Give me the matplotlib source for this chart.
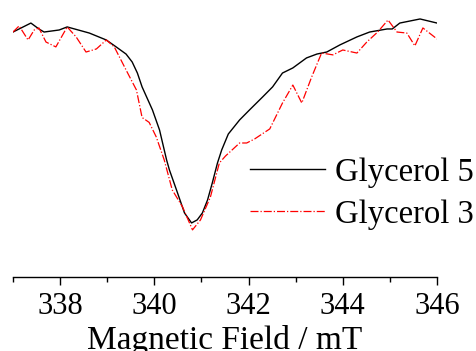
import matplotlib

matplotlib.use("Agg")
import matplotlib.pyplot as plt  # noqa: E402
from matplotlib.ticker import MultipleLocator  # noqa: E402

plt.rcParams["font.family"] = ["Liberation Serif", "DejaVu Serif"]

# normalised EPR absorption
field_5 = [337.00, 337.38, 337.55, 337.66, 337.98, 338.15, 338.62, 338.98, 339.19,
           339.40, 339.53, 339.64, 339.74, 339.96, 340.11, 340.26, 340.32, 340.47,
           340.64, 340.79, 340.91, 341.02, 341.13, 341.23, 341.34, 341.43, 341.57,
           341.81, 342.02, 342.30, 342.51, 342.72, 342.94, 343.23, 343.45, 343.66,
           343.94, 344.30, 344.57, 344.94, 345.05, 345.21, 345.64, 346.00]
glycerol_5 = [0.936, 0.980, 0.951, 0.936, 0.946, 0.961, 0.931, 0.897, 0.863,
              0.828, 0.789, 0.735, 0.667, 0.554, 0.456, 0.309, 0.260, 0.162,
              0.049, 0.000, 0.015, 0.049, 0.113, 0.196, 0.294, 0.358, 0.436,
              0.505, 0.554, 0.618, 0.667, 0.735, 0.760, 0.809, 0.828, 0.838,
              0.873, 0.912, 0.936, 0.951, 0.951, 0.980, 1.000, 0.980]

field_3 = [337.00, 337.13, 337.32, 337.45, 337.55, 337.70, 337.91, 338.15, 338.34,
           338.55, 338.77, 338.98, 339.15, 339.40, 339.62, 339.74, 339.89, 340.04,
           340.21, 340.38, 340.60, 340.81, 340.98, 341.19, 341.38, 341.51, 341.81,
           341.96, 342.13, 342.45, 342.72, 342.94, 343.13, 343.34, 343.55, 343.79,
           344.00, 344.30, 344.51, 344.74, 344.96, 345.15, 345.36, 345.53, 345.70,
           346.00]
glycerol_3 = [0.936, 0.966, 0.897, 0.946, 0.956, 0.887, 0.863, 0.961, 0.912,
              0.838, 0.853, 0.897, 0.863, 0.750, 0.652, 0.517, 0.493, 0.422,
              0.309, 0.162, 0.078, -0.034, 0.015, 0.127, 0.294, 0.328, 0.392,
              0.392, 0.412, 0.461, 0.588, 0.676, 0.588, 0.716, 0.833, 0.824,
              0.848, 0.833, 0.887, 0.936, 0.995, 0.936, 0.931, 0.868, 0.956,
              0.902]

fig = plt.figure(figsize=(4.76, 3.51), dpi=100)
ax = fig.add_axes([0.0273, 0.2108, 0.8908, 0.7892])

ax.plot(field_5, glycerol_5, color="black", lw=1.0, label="Glycerol 5")
ax.plot(field_3, glycerol_3, color="red", lw=0.9, ls="-.", label="Glycerol 3")

ax.set_xlim(337, 346)
ax.set_ylim(-0.265, 1.093)
ax.set_xticks([338, 340, 342, 344, 346])
ax.xaxis.set_minor_locator(MultipleLocator(1))
ax.tick_params(axis="x", which="major", direction="out", length=6, width=1,
               labelsize=22, pad=5)
ax.tick_params(axis="x", which="minor", direction="out", length=3.5, width=1)
ax.set_yticks([])
for side in ("top", "left", "right"):
    ax.spines[side].set_visible(False)
ax.spines["bottom"].set_linewidth(1)
ax.set_xlabel("Magnetic Field / mT", fontsize=24, labelpad=3)

ax.legend(loc="center left", bbox_to_anchor=(0.559, 0.301), frameon=False,
          fontsize=23.5, handlelength=2.3, handletextpad=0.3, labelspacing=0.35,
          borderpad=0, borderaxespad=0)

fig.savefig("out.png", dpi=100)
